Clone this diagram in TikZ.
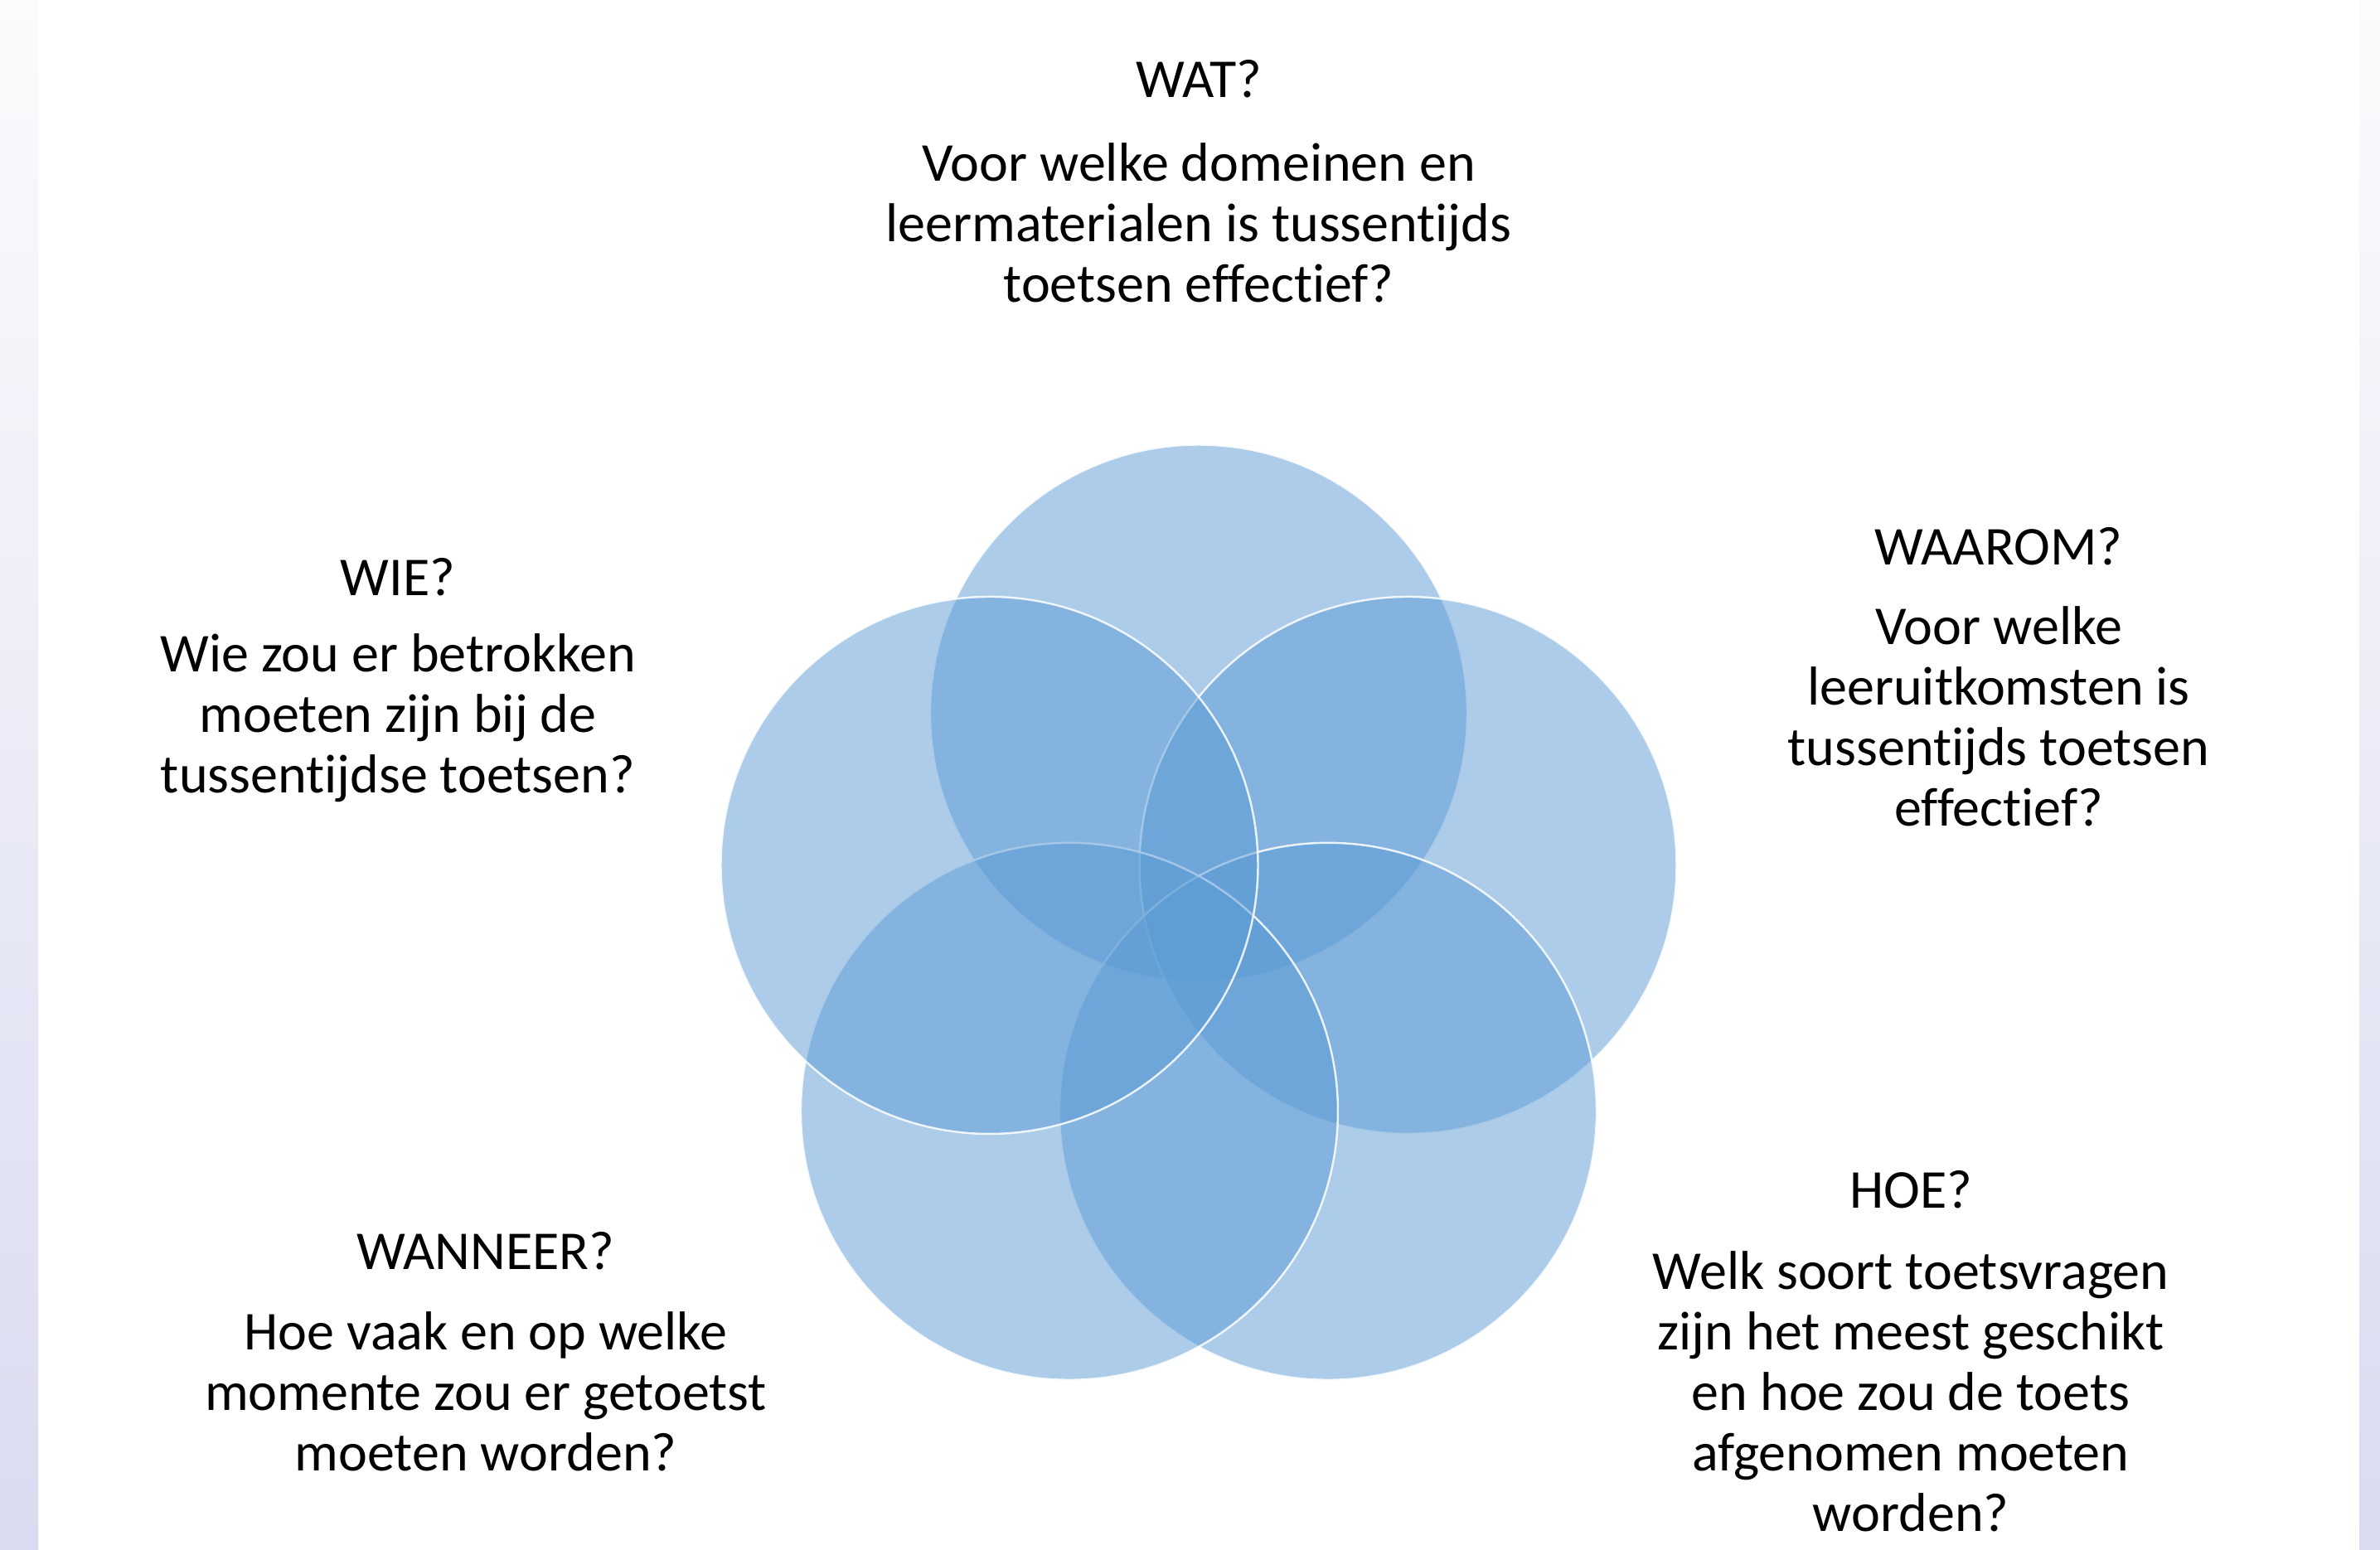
\documentclass[tikz,border=0pt]{standalone}
\usepackage{fontspec}
\setmainfont{Carlito}[Ligatures = NoCommon]
\usetikzlibrary{positioning}
\definecolor{ringblue}{RGB}{91,155,213}
\definecolor{edgetop}{RGB}{251,251,253}
\definecolor{edgebot}{RGB}{217,219,240}
\tikzset{
    ring/.style = {fill = ringblue, fill opacity = 0.5, draw = white, draw opacity = 0.85, line width = 0.7pt},
    head/.style = {inner sep = 0pt, font = \fontsize{18.8}{20.8}\selectfont},
    qtext/.style = {inner sep = 0pt, align = center, font = \fontsize{18.8}{20.8}\selectfont}
}
\begin{document}
\begin{tikzpicture}
    \useasboundingbox (0,0) rectangle (28.71,18.69);
    \fill[white] (0,0) rectangle (28.71,18.69);
    \shade[top color = edgetop, bottom color = edgebot] (0,0) rectangle (0.46,18.69); %left band
    \shade[top color = edgetop, bottom color = edgebot] (28.46,0) rectangle (28.71,18.69); %right band

    % five rings, clockwise from the top
    \foreach \a in {90,18,-54,-126,162}
        \draw[ring] (14.46,7.43) ++(\a:2.655) circle (3.24);

    \node[head] (wat) at (14.46,17.74) {WAT?};
    \node[qtext] (watq) at (14.46,16.0) {Voor welke domeinen en\\ leermaterialen is tussentijds\\ toetsen effectief?};

    \node[head] (waarom) at (24.11,12.10) {WAAROM?};
    \node[qtext] (waaromq) at (24.11,10.05) {Voor welke\\ leeruitkomsten is\\ tussentijds toetsen\\ effectief?};

    \node[head] (hoe) at (23.05,4.34) {HOE?};
    \node[qtext] (hoeq) at (23.05,1.90) {Welk soort toetsvragen\\ zijn het meest geschikt\\ en hoe zou de toets\\ afgenomen moeten\\ worden?};

    \node[head] (wanneer) at (5.86,3.60) {WANNEER?};
    \node[qtext] (wanneerq) at (5.86,1.90) {Hoe vaak en op welke\\ momente zou er getoetst\\ moeten worden?};

    \node[head] (wie) at (4.80,11.73) {WIE?};
    \node[qtext] (wieq) at (4.80,10.03) {Wie zou er betrokken\\ moeten zijn bij de\\ tussentijdse toetsen?};
\end{tikzpicture}
\end{document}
